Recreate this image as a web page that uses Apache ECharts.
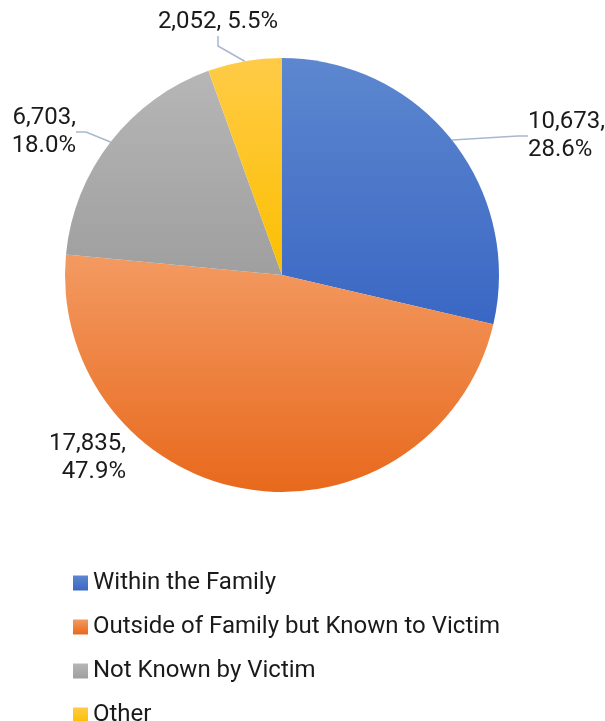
<!DOCTYPE html>
<html><head><meta charset="utf-8">
<script src="https://cdn.jsdelivr.net/npm/echarts@6/dist/echarts.min.js"></script>
<style>html,body{margin:0;padding:0;background:#fff}#c{width:605px;height:721px}</style>
</head><body><div id="c"></div>
<script>
const categories = ['Within the Family', 'Outside of Family but Known to Victim', 'Not Known by Victim', 'Other'];
const values = [10673, 17835, 6703, 2052];

const grads = [
  ['#5d87cf', '#3a67c4'],
  ['#f39a62', '#e8691c'],
  ['#b6b6b6', '#9f9f9f'],
  ['#ffcb47', '#fcbf00']
];
const labelPos = [
  {x: 528, y: 136, align: 'left'},
  {x: 126, y: 458, align: 'right'},
  {x: 76, y: 132, align: 'right'},
  {x: 218, y: 22, align: 'center'}
];

const chart = echarts.init(document.getElementById('c'));
const mkGrad = i => new echarts.graphic.LinearGradient(0, 0, 0, 1, [
  {offset: 0, color: grads[i][0]}, {offset: 1, color: grads[i][1]}]);
const data = categories.map((n, i) => ({
  name: n,
  value: values[i],
  itemStyle: { color: mkGrad(i) },
  labelLine: { show: i !== 1 }
}));
chart.setOption({
  animation: false,
  textStyle: { fontFamily: 'Roboto' },
  legend: {
    orient: 'vertical', left: 68, top: 566, height: 300,
    itemWidth: 15, itemHeight: 15, itemGap: 20, icon: 'rect',
    textStyle: { fontSize: 24, color: '#1a1a1a', lineHeight: 24, fontFamily: 'Roboto' },
    data: categories.map((n, i) => ({ name: n, itemStyle: { color: mkGrad(i) } }))
  },
  series: [{
    type: 'pie',
    center: [282, 275],
    radius: 217,
    startAngle: 90,
    clockwise: true,
    data: data,
    itemStyle: { borderWidth: 0 },
    label: {
      show: true, fontSize: 24, lineHeight: 28, color: '#1a1a1a', fontFamily: 'Roboto',
      formatter: p => {
        const v = p.value.toLocaleString('en-US');
        const pc = p.percent.toFixed(1) + '%';
        return p.dataIndex === 3 ? v + ', ' + pc : v + ',\n' + pc;
      }
    },
    labelLine: { show: true, length: 20, length2: 10, lineStyle: { color: '#a7b8cf', width: 1.5 } },
    labelLayout: p => ({
      x: labelPos[p.dataIndex].x,
      y: labelPos[p.dataIndex].y,
      align: labelPos[p.dataIndex].align,
      verticalAlign: 'middle'
    })
  }]
});
</script></body></html>
